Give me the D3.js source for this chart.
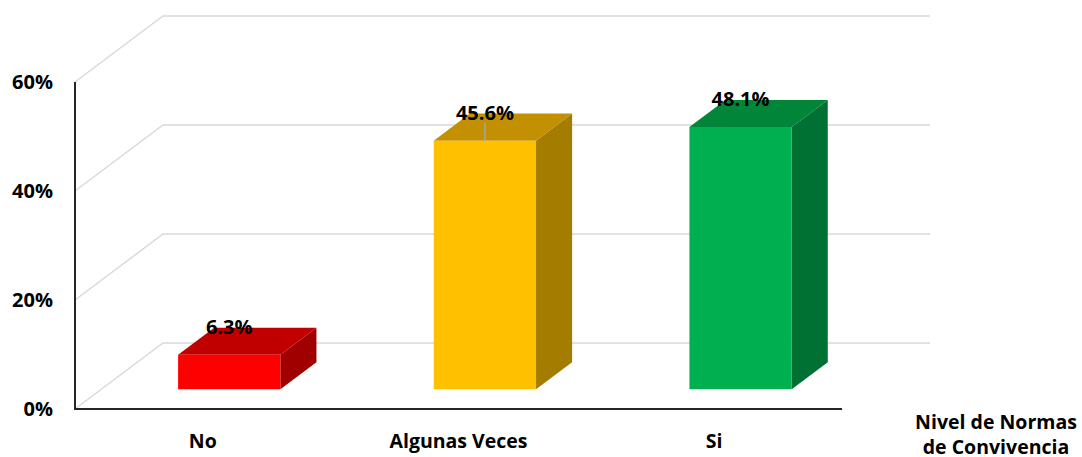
<!DOCTYPE html>
<html lang="es">
<head>
<meta charset="UTF-8">
<title>Nivel de Normas de Convivencia</title>
<script src="https://cdn.jsdelivr.net/npm/d3@7/dist/d3.min.js"></script>
<style>
  body { margin: 0; background: #fff; }
  text { font-family: "Open Sans", "Liberation Sans", sans-serif; font-weight: bold; fill: #000; }
</style>
</head>
<body>
<script>
const categories = ["No", "Algunas Veces", "Si"];
const values = [6.3, 45.6, 48.1];
const yTicks = [0, 20, 40, 60];
const frontColors = ["#ff0000", "#ffc000", "#00b050"];
const topColors = ["#c00000", "#c29000", "#008539"];
const sideColors = ["#a00000", "#a37c00", "#007033"];

const width = 1082, height = 457;
const svg = d3.select("body").append("svg").attr("width", width).attr("height", height);

const x = d3.scaleBand().domain(categories).range([75, 842]);
const y = d3.scaleLinear().domain([0, 60]).range([409, 82]);

// full depth of the 3d box and where the bars sit in it
const depthX = 88, depthY = -66;
const barFront = 0.3, barBack = 0.71, barWidth = 0.4;
const proj = (px, py, t) => [px + depthX * t, py + depthY * t];

// back wall grid + side wall diagonals
const grid = svg.append("g").attr("stroke", "#d9d9d9").attr("stroke-width", 1.5).attr("fill", "none");
yTicks.forEach(v => {
  const a = [75, y(v)], b = proj(75, y(v), 1), c = proj(842, y(v), 1);
  grid.append("path").attr("d", `M${a}L${b}L${c}`);
});

// bars
const bars = svg.append("g");
categories.forEach((c, i) => {
  const w = x.bandwidth() * barWidth;
  const x0 = x(c) + (x.bandwidth() - w) / 2, x1 = x0 + w;
  const yb = y(0), yt = y(values[i]);
  const f = pt => proj(pt[0], pt[1], barFront);
  const b = pt => proj(pt[0], pt[1], barBack);
  const poly = pts => "M" + pts.map(p => p.join(",")).join("L") + "Z";
  // side
  bars.append("path").attr("fill", sideColors[i])
    .attr("d", poly([f([x1, yt]), b([x1, yt]), b([x1, yb]), f([x1, yb])]));
  // top
  bars.append("path").attr("fill", topColors[i])
    .attr("d", poly([f([x0, yt]), b([x0, yt]), b([x1, yt]), f([x1, yt])]));
  // front
  bars.append("path").attr("fill", frontColors[i])
    .attr("d", poly([f([x0, yt]), f([x1, yt]), f([x1, yb]), f([x0, yb])]));

  const cx = f([(x0 + x1) / 2, yt]);
  if (i === 1) {
    // leader line for this label
    bars.append("line").attr("x1", cx[0]).attr("x2", cx[0])
      .attr("y1", cx[1]).attr("y2", cx[1] - 18)
      .attr("stroke", "#a6a6a6").attr("stroke-width", 1.5);
  }
  bars.append("text").attr("x", cx[0]).attr("y", cx[1] - 21)
    .attr("text-anchor", "middle").attr("font-size", 20)
    .text(values[i].toFixed(1) + "%");
});

// axes
svg.append("path").attr("d", `M75,${y(60)}L75,${y(0)}L842,${y(0)}`)
  .attr("fill", "none").attr("stroke", "#262626").attr("stroke-width", 2);

svg.append("g").selectAll("text").data(yTicks).join("text")
  .attr("x", 53).attr("y", d => y(d)).attr("dy", "0.35em")
  .attr("text-anchor", "end").attr("font-size", 20)
  .text(d => d + "%");

svg.append("g").selectAll("text").data(categories).join("text")
  .attr("x", d => x(d) + x.bandwidth() / 2).attr("y", 448)
  .attr("text-anchor", "middle").attr("font-size", 19.5)
  .text(d => d);

const title = svg.append("text").attr("x", 996).attr("y", 429)
  .attr("text-anchor", "middle").attr("font-size", 19.5);
title.append("tspan").attr("x", 996).text("Nivel de Normas");
title.append("tspan").attr("x", 996).attr("dy", 25).text("de Convivencia");
</script>
</body>
</html>
